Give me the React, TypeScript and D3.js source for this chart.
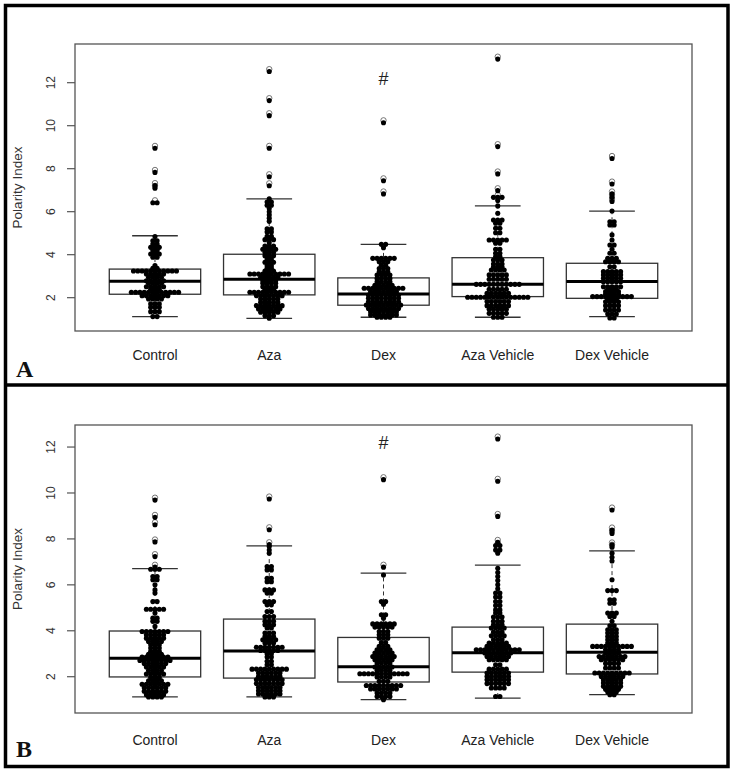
import React from 'react';
import * as d3 from 'd3';

const categories = ['Control', 'Aza', 'Dex', 'Aza Vehicle', 'Dex Vehicle'];
const yTicks = [2, 4, 6, 8, 10, 12];

// [lower whisker, Q1, median, Q3, upper whisker]
const boxStatsA = [
  [1.12, 2.16, 2.76, 3.33, 4.88],
  [1.04, 2.13, 2.86, 4.02, 6.6],
  [1.09, 1.65, 2.17, 2.92, 4.48],
  [1.09, 2.05, 2.62, 3.86, 6.27],
  [1.12, 1.97, 2.75, 3.6, 6.03],
];
const boxStatsB = [
  [1.12, 1.99, 2.8, 3.99, 6.71],
  [1.12, 1.94, 3.12, 4.51, 7.7],
  [1.0, 1.77, 2.43, 3.71, 6.51],
  [1.07, 2.2, 3.04, 4.16, 6.86],
  [1.22, 2.12, 3.07, 4.29, 7.48],
];

const controlA = [8.98, 7.86, 7.25, 7.12, 6.45, 6.45,
  4.84, 4.65, 4.65, 4.5, 4.5, 4.34, 4.34, 4.34, 4.19, 4.19, 4.03, 4.03, 4.03, 3.88, 3.88,
  3.49, 3.37, 3.37,
  3.24, 3.24, 3.24, 3.24, 3.24, 3.24, 3.24, 3.24, 3.24, 3.24, 3.24,
  3.1, 3.1, 3.1, 3.1, 3.1, 2.95, 2.95, 2.95, 2.95, 2.79, 2.79, 2.79, 2.79, 2.79,
  2.67, 2.67, 2.67, 2.67, 2.51, 2.51, 2.51, 2.51, 2.51, 2.39, 2.39, 2.39,
  2.25, 2.25, 2.25, 2.25, 2.25, 2.25, 2.25, 2.25, 2.25, 2.25, 2.25, 2.25,
  2.09, 2.09, 2.09, 2.09, 2.09, 2.09, 2.09, 1.94, 1.94, 1.94, 1.94,
  1.71, 1.71, 1.71, 1.55, 1.55, 1.55, 1.35, 1.35, 1.35, 1.12, 1.12];

const azaA = [12.55, 11.2, 10.5, 8.98, 7.66, 7.24,
  6.6, 6.45, 6.45, 6.3, 6.3, 6.15, 6.0, 5.85, 5.7, 5.55,
  5.2, 5.2, 5.05, 5.05, 4.85, 4.85, 4.7, 4.7, 4.7, 4.55,
  4.4, 4.4, 4.4, 4.25, 4.25, 4.25, 4.25, 4.1, 4.1, 4.1, 3.95, 3.95, 3.95,
  3.8, 3.8, 3.65, 3.65, 3.65, 3.49, 3.49, 3.37, 3.37, 3.24, 3.24, 3.24,
  3.1, 3.1, 3.1, 3.1, 3.1, 3.1, 3.1, 3.1, 3.1, 3.1,
  2.95, 2.95, 2.95, 2.95, 2.95, 2.79, 2.79, 2.79, 2.79, 2.67, 2.67, 2.67, 2.67,
  2.51, 2.51, 2.51, 2.51, 2.39, 2.39, 2.39,
  2.25, 2.25, 2.25, 2.25, 2.25, 2.25, 2.25, 2.25, 2.25, 2.25,
  2.09, 2.09, 2.09, 2.09, 2.09, 2.09, 2.09, 1.94, 1.94, 1.94, 1.94, 1.94,
  1.78, 1.78, 1.78, 1.78, 1.78, 1.63, 1.63, 1.63, 1.63, 1.63, 1.63, 1.63,
  1.47, 1.47, 1.47, 1.47, 1.47, 1.47, 1.32, 1.32, 1.32, 1.32, 1.32,
  1.16, 1.16, 1.16, 1.04];

const dexA = [10.17, 7.47, 6.86,
  4.48, 4.48, 4.32,
  3.83, 3.83, 3.83, 3.83, 3.83, 3.83, 3.67, 3.67, 3.67, 3.51, 3.51, 3.36, 3.36, 3.36,
  3.2, 3.2, 3.2, 3.05, 3.05, 3.05, 3.05, 2.89, 2.89, 2.89, 2.89, 2.74, 2.74, 2.74, 2.74,
  2.58, 2.58, 2.58, 2.58, 2.58,
  2.44, 2.44, 2.44, 2.44, 2.44, 2.44, 2.44, 2.44, 2.44, 2.44,
  2.28, 2.28, 2.28, 2.28, 2.28, 2.28, 2.28,
  2.12, 2.12, 2.12, 2.12, 2.12, 2.12, 2.12, 2.12,
  1.97, 1.97, 1.97, 1.97, 1.97, 1.97, 1.97, 1.97,
  1.81, 1.81, 1.81, 1.81, 1.81, 1.81, 1.81, 1.81,
  1.66, 1.66, 1.66, 1.66, 1.66, 1.66, 1.66, 1.66, 1.66,
  1.5, 1.5, 1.5, 1.5, 1.5, 1.5, 1.5, 1.5,
  1.35, 1.35, 1.35, 1.35, 1.35, 1.35, 1.35,
  1.2, 1.2, 1.2, 1.2, 1.2, 1.2, 1.2, 1.09, 1.09, 1.09, 1.09];

const azaVehA = [13.13, 9.06, 7.79, 7.01, 6.7, 6.7, 6.7, 6.55,
  6.27, 5.93, 5.61, 5.61, 5.61, 5.46, 5.46, 5.23, 5.23, 5.02, 5.02,
  4.68, 4.68, 4.68, 4.68, 4.68, 4.53, 4.53, 4.25, 4.25, 4.07, 4.07, 3.91, 3.91,
  3.75, 3.75, 3.75, 3.57, 3.57, 3.57, 3.43, 3.43, 3.43, 3.29, 3.29, 3.29, 3.29,
  3.06, 3.06, 3.06, 3.06, 3.06, 2.86, 2.86, 2.86, 2.86, 2.86,
  2.62, 2.62, 2.62, 2.62, 2.62, 2.62, 2.62, 2.62, 2.62, 2.62, 2.62,
  2.39, 2.39, 2.39, 2.39, 2.39, 2.2, 2.2, 2.2, 2.2, 2.2, 2.2,
  2.02, 2.02, 2.02, 2.02, 2.02, 2.02, 2.02, 2.02, 2.02, 2.02, 2.02, 2.02, 2.02, 2.02, 2.02,
  1.82, 1.82, 1.82, 1.82, 1.82, 1.82, 1.63, 1.63, 1.63, 1.63, 1.63, 1.63,
  1.46, 1.46, 1.46, 1.46, 1.46, 1.27, 1.27, 1.27, 1.27, 1.27, 1.09, 1.09, 1.09];

const dexVehA = [8.51, 7.32, 6.86, 6.7, 6.51,
  6.03, 5.53, 5.53, 5.38, 5.38, 4.92, 4.68, 4.45, 4.45, 4.25, 4.07, 4.07,
  3.83, 3.83, 3.83, 3.67, 3.67, 3.67, 3.67, 3.44, 3.44,
  3.21, 3.21, 3.21, 3.21, 3.21, 3.06, 3.06, 3.06, 3.06, 3.06,
  2.9, 2.9, 2.9, 2.9, 2.9, 2.74, 2.74, 2.74, 2.74, 2.74,
  2.51, 2.51, 2.51, 2.51, 2.51, 2.4, 2.4, 2.4, 2.28, 2.28, 2.28, 2.28,
  2.16, 2.16, 2.16, 2.16,
  2.05, 2.05, 2.05, 2.05, 2.05, 2.05, 2.05, 2.05, 2.05, 2.05,
  1.93, 1.93, 1.93, 1.81, 1.81, 1.81, 1.81, 1.63, 1.63, 1.63, 1.63,
  1.43, 1.43, 1.43, 1.43, 1.24, 1.24, 1.24, 1.09, 1.09];

const controlB = [9.72, 8.97, 8.65, 7.9, 7.26,
  6.8, 6.68, 6.68, 6.68, 6.36, 6.36, 6.22, 6.22, 6.0, 5.78, 5.64, 5.27, 5.27,
  4.94, 4.94, 4.94, 4.94, 4.94, 4.77, 4.55, 4.55, 4.41, 4.41, 4.19,
  3.97, 3.97, 3.97, 3.97, 3.97, 3.97, 3.97, 3.83, 3.83, 3.83, 3.83, 3.83,
  3.68, 3.68, 3.68, 3.68, 3.68, 3.53, 3.53, 3.53, 3.53, 3.39, 3.39, 3.39,
  3.25, 3.25, 3.25, 3.11, 3.11, 3.11, 2.98, 2.98, 2.98, 2.98,
  2.86, 2.86, 2.86, 2.86, 2.86, 2.86, 2.86, 2.71, 2.71, 2.71, 2.71, 2.71, 2.71, 2.71, 2.71,
  2.57, 2.57, 2.57, 2.57, 2.57, 2.57, 2.42, 2.42, 2.42, 2.42, 2.42,
  2.27, 2.27, 2.27, 2.27, 2.12, 2.12, 2.12, 2.12, 2.12, 1.97, 1.97, 1.97,
  1.82, 1.82, 1.82, 1.82, 1.67, 1.67, 1.67, 1.67, 1.67, 1.67, 1.67,
  1.52, 1.52, 1.52, 1.52, 1.52, 1.52, 1.37, 1.37, 1.37, 1.37, 1.37, 1.37,
  1.22, 1.22, 1.22, 1.22, 1.22, 1.12, 1.12, 1.12, 1.12];

const azaB = [9.77, 8.43, 7.78, 7.67, 7.52, 7.38,
  6.8, 6.8, 6.65, 6.65, 6.29, 6.29, 6.14, 6.14, 5.78, 5.78, 5.78, 5.64, 5.64,
  5.27, 5.27, 5.27, 5.13, 5.13, 4.84, 4.84, 4.62, 4.62, 4.62, 4.41, 4.41, 4.41,
  4.26, 4.26, 4.26, 4.12, 4.12, 3.9, 3.9, 3.9, 3.75, 3.75, 3.75,
  3.61, 3.61, 3.61, 3.61, 3.47, 3.47, 3.47,
  3.28, 3.28, 3.28, 3.28, 3.28, 3.28, 3.28, 3.14, 3.14, 3.14, 3.14, 3.14,
  3.0, 3.0, 2.86, 2.86, 2.67, 2.67, 2.52, 2.52,
  2.33, 2.33, 2.33, 2.33, 2.33, 2.33, 2.33, 2.33, 2.33,
  2.16, 2.16, 2.16, 2.16, 2.16, 2.16, 2.01, 2.01, 2.01, 2.01, 2.01, 2.01,
  1.87, 1.87, 1.87, 1.87, 1.87, 1.87, 1.87, 1.7, 1.7, 1.7, 1.7, 1.7, 1.7, 1.7,
  1.53, 1.53, 1.53, 1.53, 1.53, 1.53, 1.39, 1.39, 1.39, 1.39, 1.39, 1.39,
  1.25, 1.25, 1.25, 1.25, 1.25, 1.25, 1.12, 1.12, 1.12];

const dexB = [10.61, 6.8, 6.43,
  5.27, 5.27, 5.16, 4.7, 4.7, 4.55,
  4.3, 4.3, 4.3, 4.3, 4.3, 4.3, 4.16, 4.16, 4.16, 4.16, 4.16,
  3.97, 3.97, 3.97, 3.83, 3.83, 3.83, 3.68, 3.68, 3.68, 3.49, 3.49, 3.32, 3.32, 3.32,
  3.17, 3.17, 3.17, 3.17, 3.03, 3.03, 3.03, 3.03, 3.03,
  2.88, 2.88, 2.88, 2.88, 2.88, 2.88, 2.74, 2.74, 2.74, 2.74, 2.74, 2.6, 2.6, 2.6, 2.6,
  2.42, 2.42, 2.42, 2.42, 2.42, 2.27, 2.27, 2.27, 2.27,
  2.13, 2.13, 2.13, 2.13, 2.13, 2.13, 2.13, 2.13, 2.13, 2.13, 2.13, 2.13,
  1.99, 1.99, 1.99, 1.99, 1.8, 1.8, 1.8,
  1.62, 1.62, 1.62, 1.62, 1.62, 1.62, 1.62, 1.62, 1.62,
  1.47, 1.47, 1.47, 1.47, 1.47, 1.47, 1.47, 1.29, 1.29, 1.29, 1.29,
  1.14, 1.14, 1.14, 1.14, 1.0];

const azaVehB = [12.38, 10.54, 9.01, 7.88, 7.74, 7.74, 7.55, 7.55, 7.41,
  6.72, 6.54, 6.36, 6.19, 6.0, 5.83, 5.64, 5.64, 5.47, 5.47, 5.27, 5.27, 5.1, 5.1,
  4.91, 4.91, 4.77, 4.77, 4.6, 4.6, 4.6, 4.41, 4.41, 4.41, 4.26, 4.26, 4.26,
  4.12, 4.12, 4.12, 4.12, 3.94, 3.94, 3.94, 3.78, 3.78, 3.78, 3.78, 3.61, 3.61, 3.61,
  3.47, 3.47, 3.47, 3.47, 3.47, 3.32, 3.32, 3.32, 3.32, 3.32, 3.32,
  3.17, 3.17, 3.17, 3.17, 3.17, 3.17, 3.17, 3.17, 3.17, 3.17, 3.17,
  3.03, 3.03, 3.03, 3.03, 3.03, 3.03, 3.03, 2.88, 2.88, 2.88, 2.88, 2.88, 2.88,
  2.74, 2.74, 2.74, 2.74, 2.74, 2.52, 2.52,
  2.33, 2.33, 2.33, 2.33, 2.33, 2.16, 2.16, 2.16, 2.16, 2.16, 2.16,
  2.01, 2.01, 2.01, 2.01, 2.01, 2.01, 1.87, 1.87, 1.87, 1.87, 1.87, 1.87,
  1.7, 1.7, 1.7, 1.7, 1.7, 1.7, 1.51, 1.51, 1.51, 1.51, 1.14, 1.14];

const dexVehB = [9.29, 8.42, 8.27, 7.77, 7.67,
  7.38, 7.2, 7.04, 6.22, 5.75, 5.75, 5.75, 5.35, 5.35, 5.2, 5.2,
  4.77, 4.77, 4.77, 4.62, 4.62, 4.41, 4.22, 4.22, 4.04, 4.04, 4.04,
  3.9, 3.9, 3.9, 3.75, 3.75, 3.75, 3.61, 3.61, 3.61, 3.47, 3.47, 3.47,
  3.32, 3.32, 3.32, 3.32, 3.32, 3.32, 3.32, 3.32, 3.32, 3.32,
  3.17, 3.17, 3.17, 3.17, 3.03, 3.03, 3.03, 3.03,
  2.88, 2.88, 2.88, 2.88, 2.88, 2.88, 2.88, 2.74, 2.74, 2.74, 2.74, 2.74, 2.74,
  2.57, 2.57, 2.57, 2.57, 2.38, 2.38, 2.38, 2.38,
  2.16, 2.16, 2.16, 2.16, 2.16, 2.16, 2.16, 2.16, 2.16,
  2.01, 2.01, 2.01, 2.01, 2.01, 2.01, 1.87, 1.87, 1.87, 1.87, 1.87,
  1.73, 1.73, 1.73, 1.73, 1.73, 1.58, 1.58, 1.58, 1.58, 1.58,
  1.45, 1.45, 1.45, 1.45, 1.33, 1.33, 1.33, 1.22, 1.22];

const panelAData = [controlA, azaA, dexA, azaVehA, dexVehA];
const panelBData = [controlB, azaB, dexB, azaVehB, dexVehB];

const SANS = '"Liberation Sans", Arial, sans-serif';
const SERIF = '"Liberation Serif", "Times New Roman", serif';

const PLOT_LEFT = 75;
const PLOT_RIGHT = 692;
const DOT_R = 2.55;
const DOT_DX = 4.3;

type PanelProps = {
  top: number;
  bottom: number;
  yDomain: [number, number];
  data: number[][];
  stats: number[][];
  letter: string;
  letterY: number;
  labelY: number;
  hashValue: number;
};

function Panel({ top, bottom, yDomain, data, stats, letter, letterY, labelY, hashValue }: PanelProps) {
  const x = d3.scaleLinear().domain([0.3, 5.7]).range([PLOT_LEFT, PLOT_RIGHT]);
  const y = d3.scaleLinear().domain(yDomain).range([bottom, top]);
  const unit = x(1) - x(0);
  const boxW = unit * 0.8;
  const capW = unit * 0.4;

  return (
    <g>
      <rect x={PLOT_LEFT} y={top} width={PLOT_RIGHT - PLOT_LEFT} height={bottom - top}
        fill="none" stroke="#555" strokeWidth={1.3} />
      {yTicks.map((t) => (
        <g key={t}>
          <line x1={PLOT_LEFT - 8} x2={PLOT_LEFT} y1={y(t)} y2={y(t)} stroke="#555" strokeWidth={1.2} />
          <text transform={`translate(55,${y(t)}) rotate(-90)`} textAnchor="middle"
            fontFamily={SANS} fontSize={12} fill="#333">{t}</text>
        </g>
      ))}
      <text transform={`translate(21.5,${(top + bottom) / 2}) rotate(-90)`} textAnchor="middle"
        fontFamily={SANS} fontSize={13.5} fill="#333">Polarity Index</text>
      {categories.map((c, i) => (
        <text key={c} x={x(i + 1)} y={labelY} textAnchor="middle" fontFamily={SANS}
          fontSize={14} fill="#222">{c}</text>
      ))}
      <text x={x(3)} y={y(hashValue)} dy="0.35em" textAnchor="middle" fontFamily={SANS}
        fontSize={18} fill="#222">#</text>
      <text x={16} y={letterY} fontFamily={SERIF} fontWeight="bold" fontSize={24} fill="#111">{letter}</text>

      {stats.map((s, i) => {
        const cx = x(i + 1);
        const [lo, q1, med, q3, hi] = s;
        return (
          <g key={'box' + i} stroke="#333" fill="none">
            <line x1={cx} x2={cx} y1={y(q3)} y2={y(hi)} strokeWidth={1} strokeDasharray="4,3" />
            <line x1={cx} x2={cx} y1={y(q1)} y2={y(lo)} strokeWidth={1} strokeDasharray="4,3" />
            <line x1={cx - capW / 2} x2={cx + capW / 2} y1={y(hi)} y2={y(hi)} strokeWidth={1.3} />
            <line x1={cx - capW / 2} x2={cx + capW / 2} y1={y(lo)} y2={y(lo)} strokeWidth={1.3} />
            <rect x={cx - boxW / 2} y={y(q3)} width={boxW} height={y(q1) - y(q3)} strokeWidth={1.3} />
            <line x1={cx - boxW / 2} x2={cx + boxW / 2} y1={y(med)} y2={y(med)} stroke="#000" strokeWidth={3} />
          </g>
        );
      })}

      {data.map((vals, i) => {
        const cx = x(i + 1);
        const [lo, , , , hi] = stats[i];
        const groups = d3.group(vals, (v) => v);
        const dots: { v: number; px: number; out: boolean }[] = [];
        groups.forEach((arr, v) => {
          const n = arr.length;
          arr.forEach((_, k) => {
            dots.push({ v, px: cx + (k - (n - 1) / 2) * DOT_DX, out: v > hi || v < lo });
          });
        });
        const outliers = Array.from(groups.keys()).filter((v) => v > hi || v < lo);
        return (
          <g key={'pts' + i}>
            {outliers.map((v, k) => (
              <circle key={'o' + k} cx={cx} cy={y(v) - 1.7} r={2.7} fill="#fff" stroke="#666" strokeWidth={0.9} />
            ))}
            {dots.map((d, k) => (
              <circle key={k} cx={d.px} cy={y(d.v) + (d.out ? 0.7 : 0)} r={DOT_R} fill="#000" />
            ))}
          </g>
        );
      })}
    </g>
  );
}

export default function App() {
  return (
    <svg width={733} height={771} style={{ position: 'absolute', left: 0, top: 0, background: '#fff' }}>
      <rect x={0} y={0} width={733} height={771} fill="#fff" />
      <Panel top={44} bottom={331} yDomain={[0.45, 13.8]} data={panelAData} stats={boxStatsA}
        letter="A" letterY={377} labelY={360} hashValue={12.17} />
      <Panel top={425} bottom={713} yDomain={[0.42, 12.96]} data={panelBData} stats={boxStatsB}
        letter="B" letterY={757} labelY={745} hashValue={12.17} />
      <rect x={5.5} y={5.5} width={722.5} height={761} fill="none" stroke="#000" strokeWidth={3.5} />
      <line x1={5.5} x2={728} y1={385} y2={385} stroke="#000" strokeWidth={3.5} />
    </svg>
  );
}
